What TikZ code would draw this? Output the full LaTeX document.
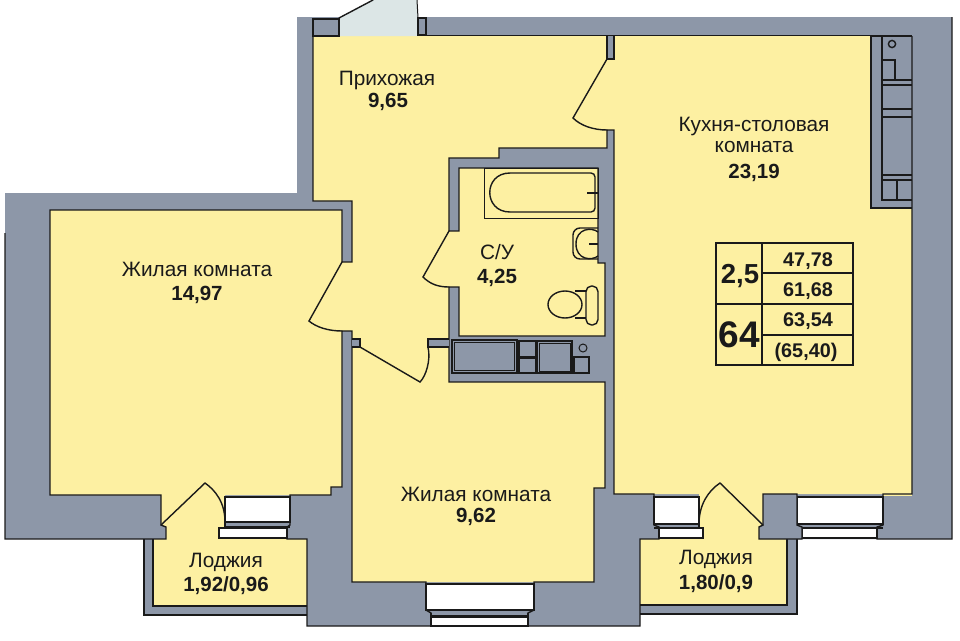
\documentclass[tikz,border=0pt]{standalone}
\usepackage{fontspec}
\setmainfont{Liberation Sans}
\definecolor{wallc}{HTML}{8D97A8}
\definecolor{roomc}{HTML}{FDF0A2}
\definecolor{doorc}{HTML}{DCE6E6}
\definecolor{inkc}{HTML}{1A1A1A}
\tikzset{
  wall/.style={fill=wallc,draw=inkc,line width=1.4pt,line join=miter},
  pane/.style={fill=white,draw=inkc,line width=1.2pt},
  ink/.style={draw=inkc,line width=1.4pt,line join=miter},
  thin/.style={draw=inkc,line width=0.8pt},
  leaf/.style={draw=inkc,line width=1.4pt,line cap=round},
  lab/.style={inner sep=0pt,yshift=-2pt,text=inkc,font=\fontsize{20.8}{22}\selectfont},
  num/.style={inner sep=0pt,yshift=-2pt,text=inkc,font=\fontsize{20.5}{22}\selectfont\bfseries},
  cell/.style={inner sep=0pt,yshift=-2pt,text=inkc,font=\fontsize{19.8}{22}\selectfont\bfseries}
}
\begin{document}
\begin{tikzpicture}[x=1pt,y=-1pt]
\useasboundingbox (0,0) rectangle (960,640);
% wall silhouette
\fill[wallc] (297,17) -- (952,17) -- (952,539) -- (797,539) -- (797,614) -- (640,614) -- (640,626)
  -- (307,626) -- (307,615) -- (144,615) -- (144,539) -- (5,539) -- (5,193) -- (297,193) -- cycle;
% yellow floors
\fill[roomc] (50,210) -- (342,210) -- (342,487) -- (331,487) -- (331,495) -- (50,495) -- cycle;
\fill[roomc] (161,494) -- (225,494) -- (225,528) -- (219,528) -- (219,540) -- (166,540) -- (166,527) -- (161,525) -- cycle;
\fill[roomc] (153,539) rectangle (307,606);
\fill[roomc] (313,36) -- (607,36) -- (607,148) -- (499,148) -- (499,158) -- (449,158) -- (449,382)
  -- (605,382) -- (605,488) -- (594,488) -- (594,582) -- (352,582) -- (352,201) -- (313,201) -- cycle;
\fill[roomc] (341,262) rectangle (353,331);
\fill[roomc] (606,59) rectangle (615,130);
\fill[roomc] (448,231) rectangle (460,287);
\fill[roomc] (614,36) -- (871,36) -- (871,208) -- (912,208) -- (912,494) -- (614,494) -- cycle;
\fill[roomc] (883,494) -- (912,494) -- (912,496) -- (883,496) -- cycle;
\fill[roomc] (699,493) -- (763,493) -- (763,525) -- (759,527) -- (759,540) -- (703,540) -- (703,528) -- (699,528) -- cycle;
\fill[roomc] (640,539) rectangle (787,605);
\fill[roomc] (459,168) -- (598,168) -- (598,263) -- (605,263) -- (605,336) -- (459,336) -- cycle;
% window openings
\draw[pane] (225,497) rectangle (290,522);
\draw[pane] (219,528) rectangle (287,538);
\draw[ink] (225,522) -- (225,527) -- (290,527);
\draw[pane] (654,497) rectangle (699,524);
\draw[pane] (659,528) rectangle (703,538);
\draw[ink] (654,528) -- (699,528) -- (699,524);
\draw[pane] (797,497) rectangle (883,524);
\draw[pane] (802,528) rectangle (877,538);
\draw[ink] (797,528) -- (883,528);
\draw[pane] (426,584) rectangle (534,610);
\draw[pane] (431,617) rectangle (528,626);
\draw[ink] (431,613) -- (431,616) -- (528,616) -- (528,613);
% wall lines
\draw[ink] (342,331) -- (352,331) -- (352,582) -- (426,582) -- (426,610) -- (431,613) -- (431,626) -- (307,626)
  -- (307,539) -- (287,539) -- (287,527) -- (290,525) -- (290,495) -- (331,495) -- (331,487) -- (342,487) -- cycle;
\draw[ink] (5,233) -- (5,539) -- (166,539) -- (166,527) -- (161,525) -- (161,495) -- (50,495) -- (50,210)
  -- (342,210) -- (342,262) -- (352,262) -- (352,201) -- (313,201) -- (313,36) -- (339,36);
\draw[ink] (144,539) -- (144,615) -- (307,615);
\draw[ink] (153,539) -- (153,606) -- (307,606);
\draw[ink] (418,35.5) -- (871,35.5) -- (871,208) -- (912,208);
\draw[ink] (607,36) -- (607,59) -- (614,59) -- (614,36);
\draw[ink] (614,130) -- (607,130) -- (607,148) -- (499,148) -- (499,158) -- (449,158) -- (449,231) -- (459,231)
  -- (459,168) -- (598,168) -- (598,263) -- (605,263) -- (605,336) -- (459,336) -- (459,287) -- (449,287)
  -- (449,382) -- (605,382) -- (605,488) -- (594,488) -- (594,582) -- (534,582) -- (534,610) -- (528,613)
  -- (528,626) -- (640,626) -- (640,539) -- (659,539) -- (659,527) -- (654,525) -- (654,494) -- (614,494) -- cycle;
\draw[ink] (912,36) -- (912,494) -- (883,494) -- (883,525) -- (877,527) -- (877,539) -- (952,539) -- (952,17);
\draw[ink] (640,605) -- (787,605) -- (787,539);
\draw[ink] (640,614) -- (797,614) -- (797,539);
\draw[wall] (763,494) -- (797,494) -- (797,525) -- (802,527) -- (802,539) -- (759,539) -- (759,527) -- (763,525) -- cycle;
\draw[wall] (352,339) -- (360,339) -- (360,347) -- (352,347);
\draw[wall] (449,339) -- (428,339) -- (428,347) -- (449,347);
% doors
\draw[leaf] (607,59) -- (573,118) .. controls (581,126) and (594,130) .. (607,130);
\draw[leaf] (449,231) -- (423,277) .. controls (430,284) and (438,287) .. (449,287);
\draw[leaf] (342,262) -- (309,321) .. controls (316,327) and (328,331) .. (342,331);
\draw[leaf] (360,347) -- (420,382) .. controls (426,376) and (431,360) .. (428,347);
\draw[leaf] (161,525) -- (205,483) .. controls (215,490) and (225,502) .. (225,522);
\draw[leaf] (699,524) .. controls (699,505) and (708,491) .. (720,483) -- (763,525);
% entrance
\fill[doorc] (339,36) -- (339,18) -- (373,0) -- (417,0) -- (418,18) -- (418,36) -- cycle;
\draw[leaf] (339,18) -- (373,0);
\draw[draw=inkc,line width=1pt] (417,0) -- (418,18);
\draw[wall] (313,19) rectangle (339,36);
\draw[wall] (418,18) rectangle (426,35);
% shaft at the kitchen
\draw[ink] (871,36) -- (912,36);
\draw[ink] (882,36) -- (882,200) -- (912,200);
\draw[ink] (882,60) -- (895,60) -- (895,79);
\draw[ink] (882,80) -- (912,80) (882,85) -- (912,85) (882,109) -- (912,109) (882,117) -- (912,117)
  (882,175) -- (912,175) (882,180) -- (912,180) (897,180) -- (897,200);
\draw[ink] (892,44) circle (3.6);
% bath
\draw[thin] (484,168) rectangle (598,218);
\draw[ink] (587,193) -- (598,193);
\draw[ink,rounded corners=4pt] (595,193) -- (595,173) -- (510,173);
\draw[ink] (510,173) .. controls (483,173) and (483,212) .. (510,212);
\draw[ink,rounded corners=4pt] (510,212) -- (595,212) -- (595,193);
% sink
\draw[ink,rounded corners=7pt] (598,228) -- (573,228) -- (573,259) -- (598,259);
\draw[ink] (598,232) .. controls (592,227) and (576,228) .. (576,244) .. controls (576,260) and (592,261) .. (598,256);
\draw[ink] (589,244) -- (598,244);
% toilet
\draw[ink] (575,291) -- (586,291) (575,318) -- (586,318);
\draw[ink] (565,304.5) ellipse (17 and 13.5);
\draw[ink,fill=roomc,rounded corners=5.5pt] (586,286) rectangle (598,325);
% niche under bathroom
\draw[ink] (452,340) rectangle (517,373);
\draw[thin] (454.5,342.5) rectangle (514.5,370.5);
\draw[ink] (519,341) rectangle (536,357);
\draw[ink] (519,358) rectangle (536,373);
\draw[ink] (537,341) rectangle (572,373);
\draw[thin] (539,343) rectangle (570,371);
\draw[ink] (574,357) rectangle (589,373);
\draw[draw=inkc,line width=1pt] (583,348) circle (4);
% data table
\draw[ink,line width=1.6pt] (716,243) rectangle (853,365);
\draw[ink,line width=1.6pt] (762,243) -- (762,365) (716,304) -- (853,304) (762,273) -- (853,273) (762,335) -- (853,335);
% labels
\node[lab] (t1) at (387,79) {Прихожая};
\node[num] (t2) at (388,100) {9,65};
\node[lab] (t3) at (754,125) {Кухня-столовая};
\node[lab] (t4) at (754,145) {комната};
\node[num] (t5) at (754,171) {23,19};
\node[lab] (t6) at (497,250) {С/У};
\node[num] (t7) at (497,276) {4,25};
\node[lab] (t8) at (197,267) {Жилая комната};
\node[num] (t9) at (197,293) {14,97};
\node[lab] (t10) at (476,492) {Жилая комната};
\node[num] (t11) at (476,515) {9,62};
\node[lab] (t12) at (226,560) {Лоджия};
\node[num] (t13) at (226,584) {1,92/0,96};
\node[lab] (t14) at (716,557) {Лоджия};
\node[num] (t15) at (716,582) {1,80/0,9};
\node[inner sep=0pt,yshift=-2pt,text=inkc,font=\fontsize{27.5}{28}\selectfont\bfseries] (t16) at (740,274) {2,5};
\node[inner sep=0pt,text=inkc,font=\fontsize{37}{38}\selectfont\bfseries] (t17) at (739,335) {64};
\node[cell] (t18) at (808,259) {47,78};
\node[cell] (t19) at (808,289) {61,68};
\node[cell] (t20) at (808,319) {63,54};
\node[cell] (t21) at (806,350) {(65,40)};
\end{tikzpicture}
\end{document}
